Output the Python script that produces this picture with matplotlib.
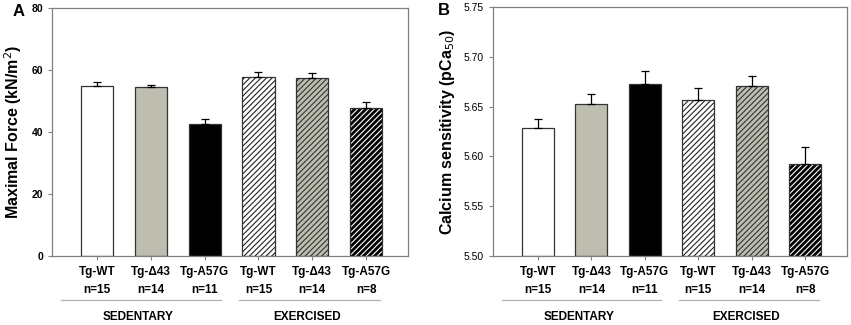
import numpy as np
import matplotlib.pyplot as plt
from matplotlib.transforms import blended_transform_factory

plt.rcParams['font.family'] = ['Liberation Sans', 'DejaVu Sans']
plt.rcParams['hatch.linewidth'] = 0.8

# data
genotypes = ['Tg-WT', 'Tg-\u039443', 'Tg-A57G', 'Tg-WT', 'Tg-\u039443', 'Tg-A57G']
n_labels = ['n=15', 'n=14', 'n=11', 'n=15', 'n=14', 'n=8']
groups = ['SEDENTARY', 'EXERCISED']
force_mean = [54.8, 54.4, 42.6, 57.8, 57.5, 47.6]
force_err = [1.2, 0.6, 1.6, 1.4, 1.4, 2.2]
pca_mean = [5.629, 5.653, 5.673, 5.657, 5.671, 5.592]
pca_err = [0.009, 0.010, 0.013, 0.012, 0.010, 0.017]

face_cols = ['white', '#bdbdb0', 'black', 'white', '#bdbdb0', 'black']
hatches = [None, None, None, '//////', '//////', '//////']
hatch_cols = ['black', 'black', 'white', '#222222', '#333333', 'white']


def draw_panel(ax, means, errs, ylim, yticks, fmt, ylabel, letter, letter_x, bold_ticks):
    x = np.arange(len(means))
    base = ylim[0]
    heights = np.array(means) - base
    for i in range(len(x)):
        if hatches[i]:
            ax.bar(x[i], heights[i], 0.6, bottom=base, color=face_cols[i],
                   edgecolor=hatch_cols[i], hatch=hatches[i], linewidth=0, zorder=2)
            ax.bar(x[i], heights[i], 0.6, bottom=base, fill=False,
                   edgecolor='#333333', linewidth=0.9, zorder=3)
        else:
            ax.bar(x[i], heights[i], 0.6, bottom=base, color=face_cols[i],
                   edgecolor='#333333', linewidth=0.9, zorder=2)
    ax.errorbar(x, means, yerr=[np.zeros(len(errs)), errs], fmt='none',
                ecolor='black', elinewidth=0.9, capsize=3, capthick=0.9, zorder=4)
    ax.set_ylim(ylim)
    ax.set_xlim(-0.84, 5.78)
    ax.set_yticks(yticks)
    ax.set_yticklabels([fmt.format(v) for v in yticks],
                       fontsize=7.5, fontweight='bold' if bold_ticks else 'normal')
    ax.set_xticks(x)
    ax.set_xticklabels([])
    for s in ax.spines.values():
        s.set_color('#808080')
        s.set_linewidth(0.9)
    ax.tick_params(direction='out', length=3, color='#808080', width=0.8)
    ax.set_ylabel(ylabel, fontsize=11.5, fontweight='bold', labelpad=5)

    tr = blended_transform_factory(ax.transData, ax.transAxes)
    for i in range(len(x)):
        ax.text(x[i], -0.065, genotypes[i], transform=tr, ha='center', va='center',
                fontsize=8.5, fontweight='bold')
        ax.text(x[i], -0.137, n_labels[i], transform=tr, ha='center', va='center',
                fontsize=8.5, fontweight='bold')
    spans = [(-0.67, 2.3), (2.64, 5.26)]
    for (a, b), g in zip(spans, groups):
        ax.plot([a, b], [-0.177, -0.177], transform=tr, color='#b0b0b0',
                lw=0.9, clip_on=False)
        ax.text((a + b) / 2 - 0.05, -0.246, g, transform=tr, ha='center', va='center',
                fontsize=8.5, fontweight='bold')
    ax.text(letter_x, 0.985, letter, transform=ax.transAxes, fontsize=12,
            fontweight='bold', ha='left', va='center')


fig = plt.figure(figsize=(8.51, 3.25), dpi=100)
axA = fig.add_axes([0.0611, 0.2123, 0.4183, 0.7631])
axB = fig.add_axes([0.5793, 0.2123, 0.4160, 0.7660])

draw_panel(axA, force_mean, force_err, (0, 80), [0, 20, 40, 60, 80], '{:.0f}',
           'Maximal Force (kN/m$^2$)', 'A', -0.112, True)
draw_panel(axB, pca_mean, pca_err, (5.50, 5.75),
           [5.50, 5.55, 5.60, 5.65, 5.70, 5.75], '{:.2f}',
           'Calcium sensitivity (pCa$_{50}$)', 'B', -0.155, False)

fig.savefig('out.png', dpi=100)
